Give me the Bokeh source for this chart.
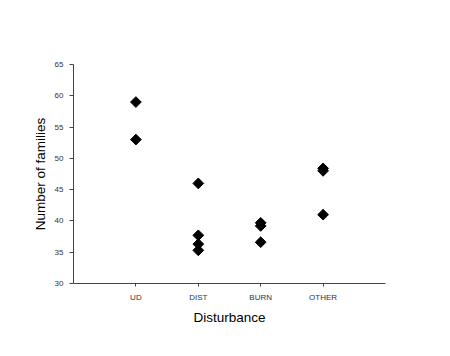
from bokeh.plotting import figure
from bokeh.models import ColumnDataSource, FixedTicker, Range1d
from bokeh.embed import file_html
from bokeh.resources import INLINE
import math

categories = ["UD", "DIST", "BURN", "OTHER"]
group_pos = [1, 1, 2, 2, 2, 2, 3, 3, 3, 4, 4, 4]
families = [59.0, 53.0, 46.0, 37.7, 36.3, 35.3, 39.7, 39.2, 36.6, 48.4, 48.0, 41.0]
y_ticks = [30, 35, 40, 45, 50, 55, 60, 65]

src = ColumnDataSource(dict(x=group_pos, y=families))

p = figure(width=440, height=340, output_backend="svg", toolbar_location=None,
           x_range=Range1d(0, 5), y_range=Range1d(30, 65),
           min_border_left=73, min_border_right=55, min_border_top=64, min_border_bottom=57)
p.outline_line_color = None
p.xgrid.visible = False
p.ygrid.visible = False
p.background_fill_color = "white"
p.border_fill_color = "white"

p.scatter("x", "y", source=src, marker="square", angle=math.pi / 4, size=7.6,
          fill_color="black", line_color="black")

font = "Liberation Sans"
for ax in (p.xaxis[0], p.yaxis[0]):
    ax.axis_line_color = "#444444"
    ax.axis_line_width = 1
    ax.major_tick_line_color = "#444444"
    ax.minor_tick_line_color = None
    ax.major_label_text_font = font
    ax.major_label_text_font_size = "8px"
    ax.major_label_text_color = "#333333"
    ax.axis_label_text_font = font
    ax.axis_label_text_font_size = "13.5px"
    ax.axis_label_text_font_style = "normal"
    ax.axis_label_text_color = "black"

p.xaxis.ticker = FixedTicker(ticks=[1, 2, 3, 4])
p.xaxis.major_label_overrides = {i + 1: c for i, c in enumerate(categories)}
p.xaxis.major_tick_out = 3
p.xaxis.major_tick_in = 0
p.xaxis.major_label_standoff = 6
p.xaxis.axis_label = "Disturbance"
p.xaxis.axis_label_standoff = 5

p.yaxis.ticker = FixedTicker(ticks=y_ticks)
p.yaxis.major_tick_out = 4
p.yaxis.major_tick_in = 0
p.yaxis.major_label_standoff = 6
p.yaxis.axis_label = "Number of families"
p.yaxis.axis_label_standoff = 4

open("out.html", "w").write(file_html(p, INLINE))
